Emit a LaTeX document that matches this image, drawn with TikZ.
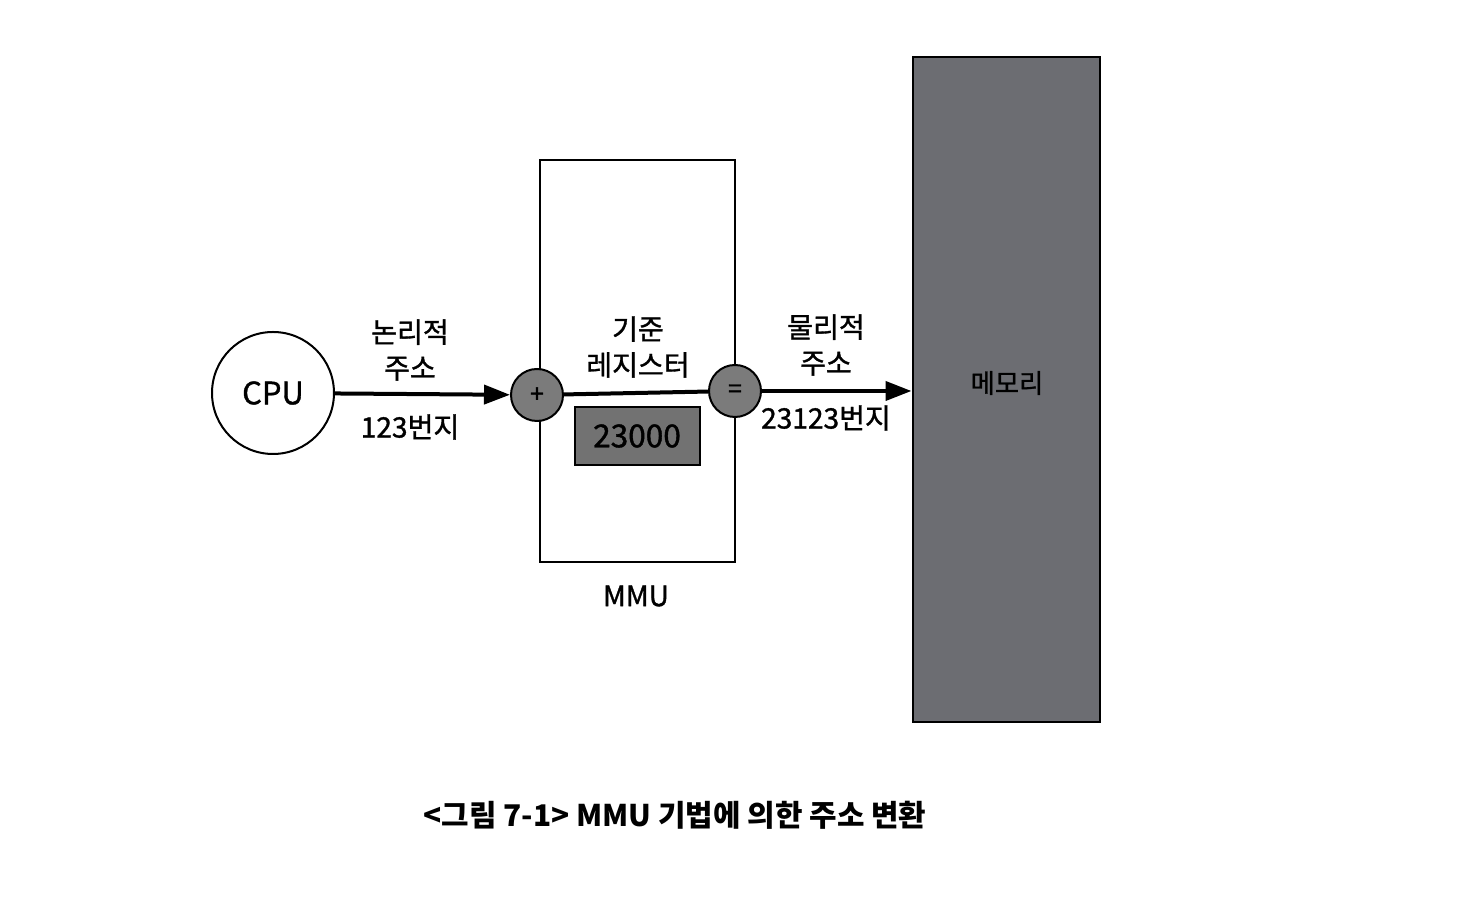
\documentclass[tikz,border=0pt]{standalone}
\usepackage{fontspec}
\setmainfont{Noto Sans CJK KR}
\newfontfamily\labelfont[RawFeature={embolden=1.2}]{Noto Sans CJK KR}
\usetikzlibrary{arrows.meta}
\definecolor{opgray}{HTML}{7B7B7B}
\definecolor{reggray}{HTML}{727272}
\definecolor{memgray}{HTML}{6C6D72}
\tikzset{
    op/.style={circle, draw, line width=0.02cm, fill=opgray, minimum width=5.2mm, inner sep=0pt, font=\labelfont\fontsize{7}{8}\selectfont},
    lbl/.style={align=center, font=\labelfont\fontsize{8}{10.2}\selectfont},
    arr/.style={line width=0.04cm, -{Triangle[length=2.6mm,width=1.9mm]}}
}
\begin{document}
\begin{tikzpicture}[x=0.1mm, y=-0.1mm]
    \useasboundingbox (0,0) rectangle (1467,924);
    \node[draw, line width=0.02cm, minimum width=19.5mm, minimum height=40.2mm] (mmu) at (637.5,361) {};
    \node[circle, draw, line width=0.02cm, minimum size=12.2mm, font=\labelfont\fontsize{8.8}{10}\selectfont] (cpu) at (273,393) {CPU};
    \node[op] (plus) at (537,395) {+};
    \node[op] (eq) at (735,391) {=};
    \node[draw, line width=0.02cm, fill=reggray, minimum width=12.5mm, minimum height=5.8mm, font=\labelfont\fontsize{9}{10}\selectfont] (reg) at (637,436) {23000};
    \node[draw, line width=0.02cm, fill=memgray, minimum width=18.7mm, minimum height=66.5mm] (mem) at (1006,389.5) {};
    \node[font=\labelfont\fontsize{7.5}{9}\selectfont] (memlbl) at (1007,383) {메모리};
    \draw[arr] (cpu) -- (plus);
    \draw[line width=0.04cm] (plus) -- (eq);
    \draw[arr] (eq.east) -- (eq.east -| mem.west);
    \node[lbl] (logical) at (410,350) {논리적\\주소};
    \node[lbl] (logaddr) at (410,427) {123번지};
    \node[lbl] (base) at (638,347) {기준\\레지스터};
    \node[lbl] (physical) at (826,345) {물리적\\주소};
    \node[lbl] (physaddr) at (826,418) {23123번지};
    \node[lbl] (mmulbl) at (636,596) {MMU};
    \node[font=\bfseries\fontsize{8.5}{10}\selectfont] (caption) at (675,815) {<그림 7-1> MMU 기법에 의한 주소 변환};
\end{tikzpicture}
\end{document}
